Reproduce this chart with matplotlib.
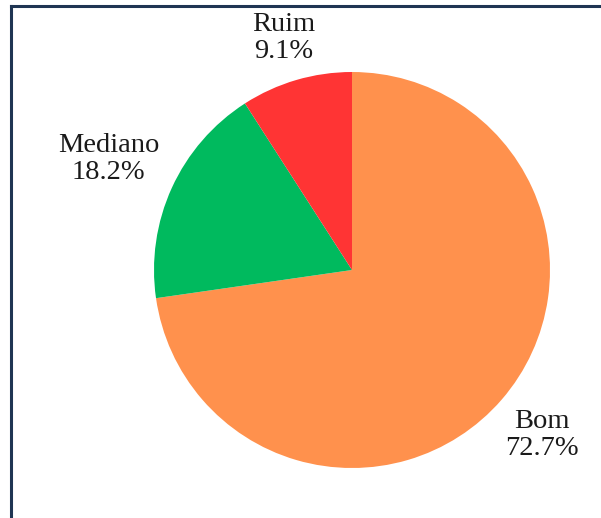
import numpy as np
import matplotlib
matplotlib.use("Agg")
import matplotlib.pyplot as plt

categories = ["Bom", "Mediano", "Ruim"]
values = [8, 2, 1]
colors = ["#FF914D", "#00BA5E", "#FF3434"]
label_dist = [1.27, 1.35, 1.22]

W, H = 601, 518
fig = plt.figure(figsize=(W / 100, H / 100), dpi=100)
ax = fig.add_axes([0, 0, 1, 1])

cx, cy, r = 352, H - 270, 198
wedges, _ = ax.pie(values, colors=colors, startangle=90, counterclock=False,
                   center=(cx, cy), radius=r, frame=True,
                   wedgeprops=dict(linewidth=0))
ax.set_xlim(0, W)
ax.set_ylim(0, H)
ax.set_aspect("equal")
ax.axis("off")

total = sum(values)
for w, name, v, d in zip(wedges, categories, values, label_dist):
    mid = np.deg2rad((w.theta1 + w.theta2) / 2)
    x = cx + r * d * np.cos(mid)
    y = cy + r * d * np.sin(mid)
    ax.text(x, y, f"{name}\n{100 * v / total:.1f}%", ha="center", va="center",
            fontsize=20.5, family="Liberation Serif", linespacing=1.12,
            color="#1a1a1a")

# frame around the chart
edge = "#1f3553"
ax.plot([11, 11], [-10, H - 6], color=edge, lw=2.2, solid_capstyle="projecting")
ax.plot([11, W + 10], [H - 6, H - 6], color=edge, lw=2.2, solid_capstyle="projecting")

fig.savefig("out.png", dpi=100)
